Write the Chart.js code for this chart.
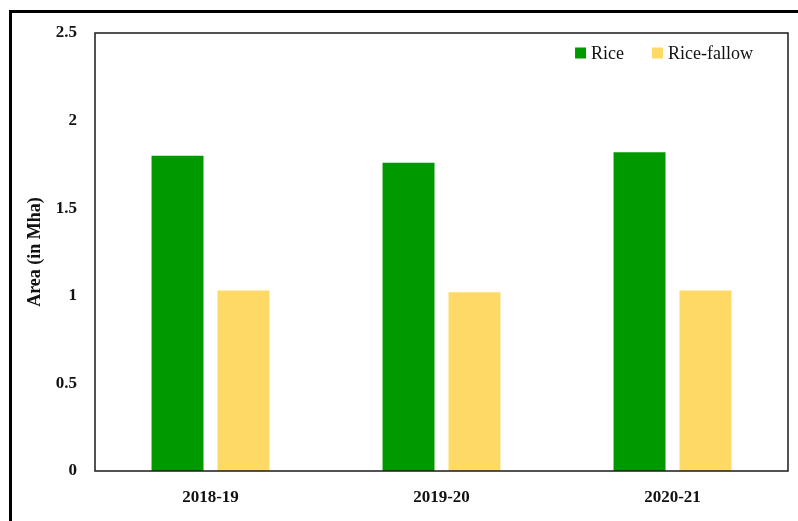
<!DOCTYPE html>
<html>
<head>
<meta charset="utf-8">
<script src="https://cdn.jsdelivr.net/npm/chart.js@4.4.1/dist/chart.umd.min.js"></script>
<style>
  html, body { margin: 0; padding: 0; background: #ffffff; }
  #wrap { position: relative; width: 798px; height: 521px; }
  canvas { display: block; }
</style>
</head>
<body>
<div id="wrap"><canvas id="chart" width="798" height="521"></canvas></div>
<script>
// Area under rice and rice-fallow by season (million hectares)
const seasons = ['2018-19', '2019-20', '2020-21'];
const riceArea = [1.80, 1.76, 1.82];
const riceFallowArea = [1.03, 1.02, 1.03];
const yTicks = [0, 0.5, 1, 1.5, 2, 2.5];

const seriesNames = ['Rice', 'Rice-fallow'];
const seriesColors = ['#009900', '#FFD966'];
const serif = "'Liberation Serif', 'Times New Roman', serif";

// Outer frame around the whole figure and a box around the plot area
const framePlugin = {
  id: 'frames',
  beforeDraw(chart) {
    const ctx = chart.ctx;
    ctx.save();
    ctx.fillStyle = '#ffffff';
    ctx.fillRect(0, 0, chart.width, chart.height);
    ctx.strokeStyle = '#000000';
    ctx.lineWidth = 3;
    ctx.strokeRect(10.5, 11.5, 1000, 1000);
    ctx.restore();
  },
  afterDatasetsDraw(chart) {
    const a = chart.chartArea;
    const ctx = chart.ctx;
    ctx.save();
    ctx.strokeStyle = '#1a1a1a';
    ctx.lineWidth = 1.5;
    ctx.strokeRect(a.left, a.top, a.right - a.left, a.bottom - a.top);
    ctx.restore();
  }
};

// Legend drawn inside the top-right corner of the plot area
const insideLegend = {
  id: 'insideLegend',
  afterDraw(chart) {
    const ctx = chart.ctx;
    const a = chart.chartArea;
    ctx.save();
    ctx.font = '18px ' + serif;
    ctx.textBaseline = 'middle';
    const box = 11, gapText = 5, gapItem = 28;
    const items = chart.data.datasets.map(ds => ({
      label: ds.label, color: ds.backgroundColor,
      w: box + gapText + ctx.measureText(ds.label).width
    }));
    const total = items.reduce((s, it) => s + it.w, 0) + gapItem * (items.length - 1);
    let x = a.right - 35 - total;
    const y = a.top + 20;
    items.forEach(it => {
      ctx.fillStyle = it.color;
      ctx.fillRect(x, y - box / 2, box, box);
      ctx.fillStyle = '#111111';
      ctx.fillText(it.label, x + box + gapText, y + 1);
      x += it.w + gapItem;
    });
    ctx.restore();
  }
};

new Chart(document.getElementById('chart'), {
  type: 'bar',
  data: {
    labels: seasons,
    datasets: [
      { label: seriesNames[0], data: riceArea, backgroundColor: seriesColors[0] },
      { label: seriesNames[1], data: riceFallowArea, backgroundColor: seriesColors[1] }
    ]
  },
  options: {
    responsive: false,
    animation: false,
    layout: { padding: { left: 0, right: 10, top: 33, bottom: 0 } },
    datasets: { bar: { categoryPercentage: 0.571, barPercentage: 0.788 } },
    plugins: { legend: { display: false }, tooltip: { enabled: false } },
    scales: {
      x: {
        grid: { display: false, drawTicks: false },
        border: { display: false },
        ticks: { color: '#111111', padding: 16, font: { family: serif, size: 17, weight: 'bold' } },
        afterFit(scale) { scale.height = 50; }
      },
      y: {
        min: 0, max: 2.5,
        afterBuildTicks(scale) { scale.ticks = yTicks.map(v => ({ value: v })); },
        grid: { display: false, drawTicks: false },
        border: { display: false },
        ticks: {
          color: '#111111', padding: 18,
          font: { family: serif, size: 17, weight: 'bold' },
          callback: v => String(v)
        },
        title: {
          display: true, text: 'Area (in Mha)', color: '#111111',
          font: { family: serif, size: 18, weight: 'bold' },
          padding: { top: 25, bottom: 0 }
        },
        afterFit(scale) { scale.width = 95; }
      }
    }
  },
  plugins: [framePlugin, insideLegend]
});
</script>
</body>
</html>
